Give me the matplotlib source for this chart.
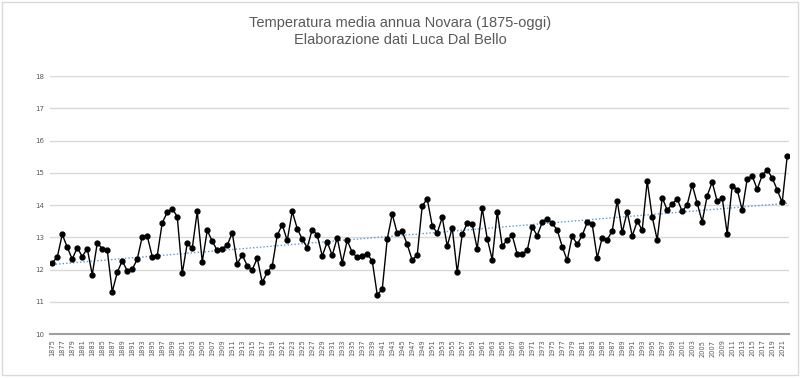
import numpy as np
import matplotlib.pyplot as plt
from matplotlib.patches import Rectangle

# Temperatura media annua Novara, 1875-2022
anni = list(range(1875, 2023))
temperature = [
    12.21, 12.38, 13.09, 12.69, 12.32, 12.68, 12.40, 12.65, 11.84, 12.82,  # 1875-1884
    12.65, 12.60, 11.31, 11.91, 12.27, 11.96, 12.01, 12.32, 13.02, 13.04,  # 1885-1894
    12.40, 12.43, 13.45, 13.77, 13.89, 13.64, 11.88, 12.81, 12.66, 13.80,  # 1895-1904
    12.24, 13.21, 12.88, 12.59, 12.65, 12.75, 13.14, 12.18, 12.45, 12.12,  # 1905-1914
    11.99, 12.35, 11.60, 11.91, 12.11, 13.06, 13.39, 12.90, 13.80, 13.27,  # 1915-1924
    12.94, 12.68, 13.24, 13.07, 12.42, 12.85, 12.44, 12.99, 12.21, 12.90,  # 1925-1934
    12.53, 12.38, 12.43, 12.48, 12.27, 11.22, 11.38, 12.94, 13.72, 13.12,  # 1935-1944
    13.18, 12.78, 12.29, 12.45, 13.97, 14.19, 13.36, 13.13, 13.62, 12.73,  # 1945-1954
    13.29, 11.91, 13.10, 13.43, 13.40, 12.64, 13.90, 12.96, 12.31, 13.79,  # 1955-1964
    12.73, 12.91, 13.06, 12.48, 12.48, 12.59, 13.32, 13.05, 13.46, 13.58,  # 1965-1974
    13.43, 13.23, 12.71, 12.28, 13.04, 12.78, 13.06, 13.46, 13.40, 12.36,  # 1975-1984
    12.99, 12.92, 13.20, 14.13, 13.15, 13.79, 13.04, 13.49, 13.23, 14.74,  # 1985-1994
    13.63, 12.92, 14.23, 13.84, 14.03, 14.19, 13.80, 14.01, 14.63, 14.06,  # 1995-2004
    13.48, 14.29, 14.71, 14.11, 14.23, 13.11, 14.60, 14.48, 13.84, 14.81,  # 2005-2014
    14.90, 14.49, 14.92, 15.09, 14.84, 14.47, 14.08, 15.51,                # 2015-2022
]
etichette_anni = list(range(1875, 2022, 2))
valori_y = list(range(10, 19))

x = np.array(anni)
y = np.array(temperature)

fig = plt.figure(figsize=(8, 3.78), dpi=100)
ax = fig.add_axes([0.0625, 0.1164, 0.924, 0.6825])

# linea di tendenza lineare
coef = np.polyfit(x, y, 1)
ax.plot(x, np.polyval(coef, x), color="#5b9bd5", linestyle=(0, (1, 1.5)), linewidth=1, zorder=2)

ax.plot(x, y, color="black", linewidth=1, marker="o", markersize=3.5, zorder=3)

ax.set_xlim(1874.55, 2022.4)
ax.set_ylim(10, 18)
ax.set_yticks(valori_y)
ax.set_yticklabels([str(v) for v in valori_y], fontsize=5, color="#595959")
ax.set_xticks(etichette_anni)
ax.set_xticklabels([str(a) for a in etichette_anni], rotation=90, fontsize=4.8, color="#595959")
ax.tick_params(axis="both", length=0, pad=4)
ax.yaxis.grid(True, color="#d9d9d9", linewidth=1)
ax.set_axisbelow(True)
for lato in ["top", "right", "left"]:
    ax.spines[lato].set_visible(False)
ax.spines["bottom"].set_color("#a0a0a0")
ax.spines["bottom"].set_linewidth(1.5)

fig.text(0.5, 0.94, "Temperatura media annua Novara (1875-oggi)", ha="center", va="center",
         fontsize=10.5, color="#595959", family="Liberation Sans")
fig.text(0.5, 0.893, "Elaborazione dati Luca Dal Bello", ha="center", va="center",
         fontsize=10.5, color="#595959", family="Liberation Sans")

fig.patches.append(Rectangle((0.003, 0.008), 0.994, 0.988, transform=fig.transFigure,
                             fill=False, edgecolor="#d9d9d9", linewidth=1))

fig.savefig("out.png", dpi=100)
